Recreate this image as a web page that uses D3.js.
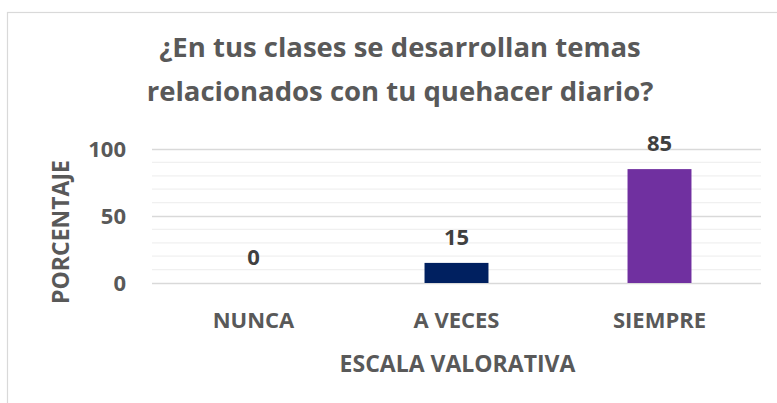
<!DOCTYPE html>
<html>
<head>
<meta charset="utf-8">
<script src="https://cdnjs.cloudflare.com/ajax/libs/d3/7.8.5/d3.min.js"></script>
<style>
    body { margin: 0; background: #fff; }
    svg { display: block; font-family: "Open Sans", sans-serif; font-weight: 700; }
</style>
</head>
<body>
<div id="chart"></div>
<script>
// datos del grafico
var categorias = ['NUNCA', 'A VECES', 'SIEMPRE'];
var porcentajes = [0, 15, 85];
var colores = ['#002060', '#002060', '#7030A0'];
var ticksY = [0, 50, 100];
var titulo = ['¿En tus clases se desarrollan temas', 'relacionados con tu quehacer diario?'];
var tituloX = 'ESCALA VALORATIVA';
var tituloY = 'PORCENTAJE';

var width = 777, height = 403;
var margin = {top: 149, right: 16, bottom: 120, left: 152};

var svg = d3.select('#chart').append('svg')
    .attr('width', width)
    .attr('height', height);

// marco del grafico
svg.append('rect')
    .attr('x', 7.5).attr('y', 12.5)
    .attr('width', width).attr('height', height)
    .attr('fill', 'none')
    .attr('stroke', '#d9d9d9')
    .attr('stroke-width', 1.2);

var x = d3.scaleBand()
    .domain(categorias)
    .range([margin.left, width - margin.right])
    .paddingInner(0.685)
    .paddingOuter(0.3425);

// 0 -> 283, 100 -> 149
var y = d3.scaleLinear()
    .domain([0, 100])
    .range([283, margin.top]);

// lineas menores
svg.append('g')
    .selectAll('line')
    .data(d3.range(10, 100, 10).filter(function (d) { return d % 50 !== 0; }))
    .enter().append('line')
    .attr('x1', margin.left).attr('x2', width - margin.right)
    .attr('y1', function (d) { return y(d); })
    .attr('y2', function (d) { return y(d); })
    .attr('stroke', '#f0f0f0')
    .attr('stroke-width', 1.3);

// eje Y con lineas principales
var ejeY = svg.append('g')
    .attr('transform', 'translate(' + margin.left + ',0)')
    .call(d3.axisLeft(y).tickValues(ticksY).tickSize(-(width - margin.right - margin.left)).tickPadding(26));
ejeY.select('.domain').remove();
ejeY.selectAll('.tick line').attr('stroke', '#d9d9d9').attr('stroke-width', 1.5);
ejeY.selectAll('.tick text')
    .attr('fill', '#595959')
    .style('font-size', '22px')
    .style('font-family', '"Open Sans", sans-serif')
    .style('font-weight', 700)
    .attr('dy', '0.36em');

// barras
svg.selectAll('.barra')
    .data(porcentajes)
    .enter().append('rect')
    .attr('class', 'barra')
    .attr('x', function (d, i) { return x(categorias[i]); })
    .attr('y', function (d) { return y(d); })
    .attr('width', x.bandwidth())
    .attr('height', function (d) { return y(0) - y(d); })
    .attr('fill', function (d, i) { return colores[i]; });

// etiquetas de datos
svg.selectAll('.etiqueta')
    .data(porcentajes)
    .enter().append('text')
    .attr('class', 'etiqueta')
    .attr('x', function (d, i) { return x(categorias[i]) + x.bandwidth() / 2; })
    .attr('y', function (d) { return y(d) - 18; })
    .attr('text-anchor', 'middle')
    .attr('fill', '#404040')
    .style('font-size', '22px')
    .text(function (d) { return d; });

// eje X (solo etiquetas)
var ejeX = svg.append('g')
    .attr('transform', 'translate(0,' + y(0) + ')')
    .call(d3.axisBottom(x).tickSize(0).tickPadding(29));
ejeX.select('.domain').remove();
ejeX.selectAll('.tick text')
    .attr('fill', '#595959')
    .style('font-size', '22px')
    .style('font-family', '"Open Sans", sans-serif')
    .style('font-weight', 700)
    .attr('dy', '0.71em');

// titulos de ejes
svg.append('text')
    .attr('x', (margin.left + width - margin.right) / 2 + 1)
    .attr('y', 372)
    .attr('text-anchor', 'middle')
    .attr('fill', '#595959')
    .style('font-size', '23px')
    .text(tituloX);

svg.append('text')
    .attr('transform', 'translate(69,232) rotate(-90)')
    .attr('text-anchor', 'middle')
    .attr('fill', '#595959')
    .style('font-size', '23px')
    .text(tituloY);

// titulo
svg.selectAll('.titulo')
    .data(titulo)
    .enter().append('text')
    .attr('class', 'titulo')
    .attr('x', 400)
    .attr('y', function (d, i) { return 57 + i * 44; })
    .attr('text-anchor', 'middle')
    .attr('fill', '#595959')
    .style('font-size', '27.5px')
    .text(function (d) { return d; });
</script>
</body>
</html>
